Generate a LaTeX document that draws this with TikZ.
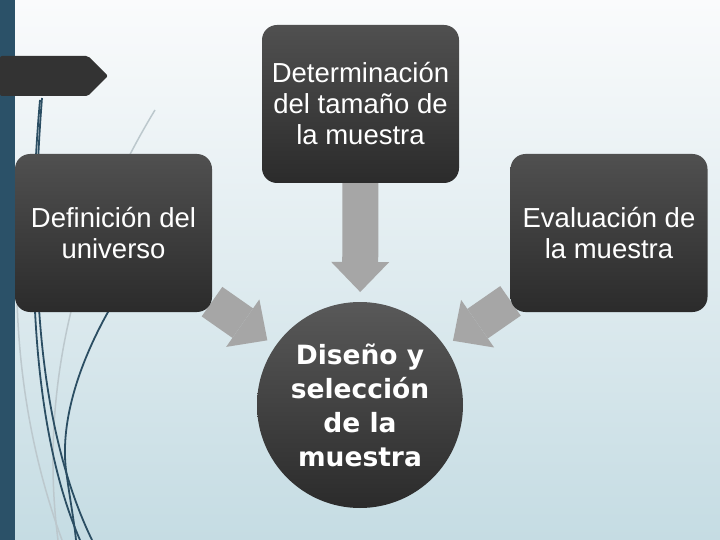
\documentclass[tikz,border=0pt]{standalone}
\usepackage{fontspec}
\setmainfont{Liberation Sans}
\newfontfamily\roundfont{DejaVu Sans}
\usetikzlibrary{arrows.meta,backgrounds}
\definecolor{stripteal}{HTML}{2B5168}
\definecolor{tabgray}{HTML}{333333}
\definecolor{boxtop}{HTML}{505050}
\definecolor{boxbottom}{HTML}{2B2B2B}
\definecolor{arrowgray}{HTML}{A6A6A6}
\definecolor{skytop}{HTML}{FAFBFC}
\definecolor{skymid}{HTML}{E2ECF0}
\definecolor{skybottom}{HTML}{C5DCE3}
\definecolor{swirldark}{HTML}{2B4E63}
\definecolor{swirllight}{HTML}{BCC8CD}
\pgfdeclarelayer{deco}
\pgfsetlayers{deco,background,main}
\tikzset{
  stage/.style={
    rectangle,
    rounded corners=15pt,
    top color=boxtop,
    bottom color=boxbottom,
    text=white,
    align=center,
    minimum width=197pt,
    minimum height=158pt,
    inner sep=0pt,
    outer sep=0pt,
    font=\fontsize{27.5}{31}\selectfont
  },
  core/.style={
    circle,
    top color=boxtop!95,
    bottom color=boxbottom,
    text=white,
    align=center,
    minimum size=206pt,
    inner sep=0pt,
    outer sep=0pt,
    font=\roundfont\bfseries\fontsize{26.5}{34}\selectfont
  },
  line/.style={line width=36pt, draw=arrowgray, -{Triangle[length=30pt,width=58pt,line width=0pt]}, shorten >=10pt},
  swirl/.style={draw=swirldark, line width=1.8pt},
  faint/.style={draw=swirllight, line width=1.5pt}
}
\begin{document}
\begin{tikzpicture}[x=1pt, y=-1pt]
  \useasboundingbox (0,0) rectangle (720,540);
  \begin{pgfonlayer}{deco}
    % slide background
    \shade[top color=skytop, middle color=skymid, bottom color=skybottom] (0,0) rectangle (720,540);
    \fill[stripteal] (0,0) rectangle (15,540);
    % swirls on the left
    \draw[faint] (155,110) .. controls (70,250) and (40,400) .. (58,540);
    \draw[faint] (17,300) .. controls (20,400) and (40,480) .. (62,540);
    \draw[swirl] (42,98) .. controls (30,250) and (34,420) .. (92,540);
    \draw[swirl] (40,100) .. controls (26,260) and (32,430) .. (80,540);
    \draw[swirl] (112,305) .. controls (80,360) and (60,420) .. (66,470) .. controls (70,500) and (74,520) .. (76,540);
  \end{pgfonlayer}
  \fill[tabgray, rounded corners=2pt] (0,56) -- (88,56) -- (108,76) -- (88,96) -- (0,96) -- cycle;

  \node[stage] (tamano) at (360.5,104) {Determinación\\del tamaño de\\la muestra};
  \node[stage] (universo) at (113.5,233) {Definición del\\universo};
  \node[stage] (evaluacion) at (609,233) {Evaluación de\\la muestra};
  \node[core] (diseno) at (360,405) {Diseño y\\selección\\de la\\muestra};

  \begin{pgfonlayer}{background}
    \draw[line] (tamano) -- (diseno);
    \draw[line] (universo) -- (diseno);
    \draw[line] (evaluacion) -- (diseno);
  \end{pgfonlayer}
\end{tikzpicture}
\end{document}
